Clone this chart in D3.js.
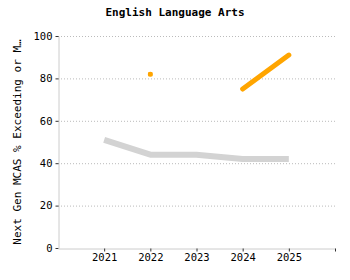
<!DOCTYPE html>
<html><head><meta charset="utf-8">
<script src="https://cdn.jsdelivr.net/npm/d3@7"></script>
<style>body{margin:0;background:#fff}svg{display:block}text{font-family:"DejaVu Sans Mono",monospace}</style>
</head><body>
<svg id="c" width="350" height="280"></svg>
<script>
const years = [2021, 2022, 2023, 2024, 2025];
const stateValues = [51, 44, 44, 42, 42];
const schoolValues = [null, 82, null, 75, 91];
const yTicks = [0, 20, 40, 60, 80, 100];
const title = "English Language Arts";
const yLabel = "Next Gen MCAS % Exceeding or M…";

const FONT = "DejaVu Sans Mono";
const svg = d3.select("#c");
const m = {l: 58, r: 15, t: 36, b: 32};
const W = 350, H = 280;
const x = d3.scaleLinear().domain([2020, 2026]).range([m.l, W - m.r]);
const y = d3.scaleLinear().domain([0, 100]).range([H - m.b, m.t]);

svg.append("text").attr("x", 175).attr("y", 16).attr("text-anchor", "middle")
  .attr("font-size", 11).attr("font-weight", "bold").attr("fill", "#000").text(title);

// grid
svg.append("g").selectAll("line").data(yTicks.filter(d => d > 0)).join("line")
  .attr("x1", m.l).attr("x2", W - m.r).attr("y1", d => y(d) + 0.5).attr("y2", d => y(d) + 0.5)
  .attr("stroke", "#bbb").attr("stroke-dasharray", "1,2");

// y axis
const ya = svg.append("g").attr("transform", `translate(${m.l + 0.5},0)`)
  .call(d3.axisLeft(y).tickValues(yTicks).tickSize(3).tickSizeOuter(0));
ya.select(".domain").attr("stroke", "#ccc");
ya.selectAll(".tick line").attr("stroke", "#333");
ya.selectAll(".tick text").attr("font-size", 10.5).attr("fill", "#000").attr("font-family", FONT);

// x axis
const xa = svg.append("g").attr("transform", `translate(0,${H - m.b + 0.5})`)
  .call(d3.axisBottom(x).tickValues(years.concat([2026])).tickFormat(d => d === 2026 ? "" : d).tickSize(3).tickSizeOuter(0));
xa.select(".domain").attr("stroke", "#ccc");
xa.selectAll(".tick line").attr("stroke", "#333");
xa.selectAll(".tick text").attr("font-size", 10.5).attr("fill", "#000").attr("font-family", FONT).attr("dy", "0.6em");

svg.append("text").attr("transform", `translate(21,${(m.t + H - m.b) / 2}) rotate(-90)`)
  .attr("text-anchor", "middle").attr("font-size", 11).attr("fill", "#000").text(yLabel);

const data1 = years.map((yr, i) => ({yr, v: stateValues[i]}));
const data2 = years.map((yr, i) => ({yr, v: schoolValues[i]}));
const line = d3.line().defined(d => d.v != null).x(d => x(d.yr)).y(d => y(d.v));

svg.append("path").datum(data1).attr("d", line).attr("fill", "none")
  .attr("stroke", "#d3d3d3").attr("stroke-width", 6).attr("stroke-linejoin", "round");
svg.append("path").datum(data2).attr("d", line).attr("fill", "none")
  .attr("stroke", "#ffa500").attr("stroke-width", 5).attr("stroke-linecap", "round").attr("stroke-linejoin", "round");

// isolated points
const iso = data2.filter((d, i) => d.v != null && (i === 0 || data2[i-1].v == null) && (i === data2.length-1 || data2[i+1].v == null));
svg.selectAll("rect.pt").data(iso).join("rect").attr("class", "pt")
  .attr("x", d => x(d.yr) - 2).attr("y", d => y(d.v) - 2).attr("width", 4).attr("height", 4).attr("fill", "#ffa500");
</script>
</body></html>
